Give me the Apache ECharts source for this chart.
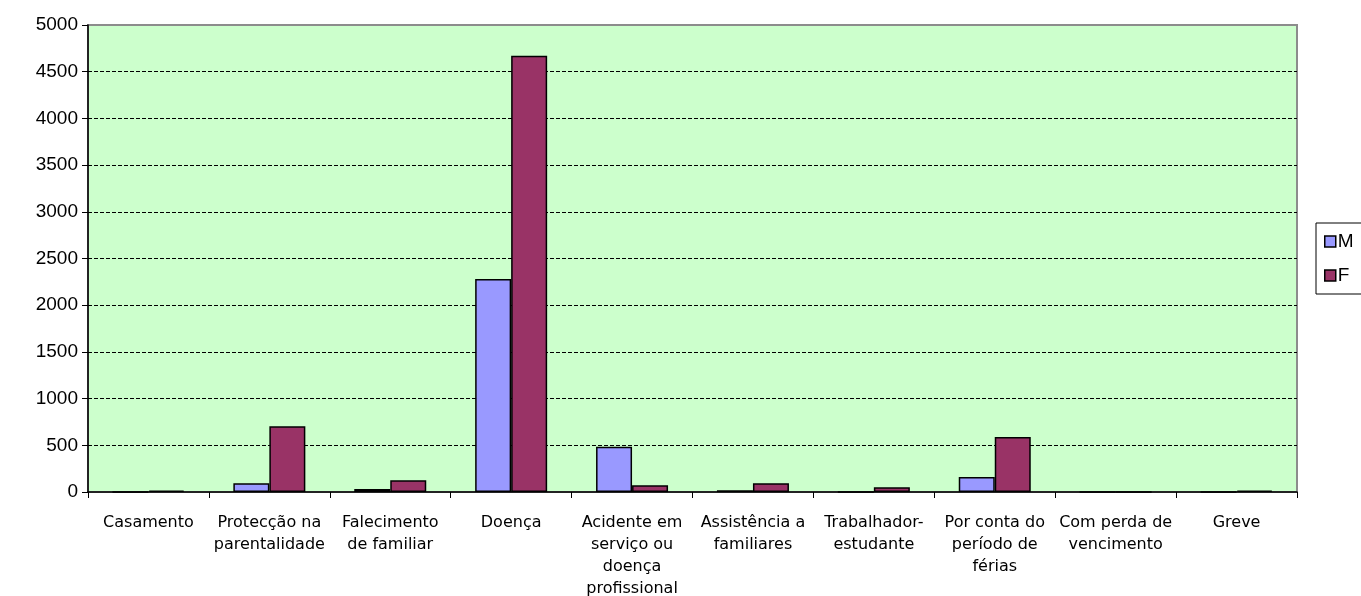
<!DOCTYPE html>
<html>
<head>
<meta charset="utf-8">
<script src="https://cdn.jsdelivr.net/npm/echarts@6/dist/echarts.min.js"></script>
<style>
    html, body { margin: 0; padding: 0; background: #fff; }
    #chart { width: 1361px; height: 596px; }
</style>
</head>
<body>
<div id="chart"></div>
<script>
// categorias de faltas
const categories = [
    'Casamento',
    'Protecção na\nparentalidade',
    'Falecimento\nde familiar',
    'Doença',
    'Acidente em\nserviço ou\ndoença\nprofissional',
    'Assistência a\nfamiliares',
    'Trabalhador-\nestudante',
    'Por conta do\nperíodo de\nférias',
    'Com perda de\nvencimento',
    'Greve'
]
const valuesM = [0, 93, 32, 2280, 485, 18, 0, 161, 0, 0]
const valuesF = [16, 703, 125, 4670, 72, 93, 50, 590, 0, 15]
const yTicks = [0, 500, 1000, 1500, 2000, 2500, 3000, 3500, 4000, 4500, 5000]

const chart = echarts.init(document.getElementById('chart'))

const barStyle = (color) => ({
    color: color,
    borderColor: '#000',
    borderWidth: 1.5
})

const option = {
    backgroundColor: '#fff',
    animation: false,
    textStyle: { fontFamily: 'Liberation Sans, Arial, sans-serif' },
    grid: {
        left: 88,
        right: 64,
        top: 25,
        bottom: 104,
        outerBoundsMode: 'none',
        containLabel: false,
        show: true,
        backgroundColor: '#ccffcc',
        borderColor: '#8c8c8c',
        borderWidth: 2
    },
    legend: {
        orient: 'vertical',
        left: 1316,
        top: 223,
        data: ['M', 'F'],
        icon: 'rect',
        itemWidth: 11,
        itemHeight: 11,
        itemGap: 15,
        padding: [9, 30, 9, 8],
        backgroundColor: '#fff',
        borderColor: '#000',
        borderWidth: 1,
        borderRadius: 0,
        itemStyle: { borderColor: '#000', borderWidth: 1.5 },
        textStyle: { color: '#000', fontSize: 19, padding: [0, 0, 0, -3] }
    },
    xAxis: {
        type: 'category',
        data: categories,
        axisLine: { lineStyle: { color: '#000', width: 1.5 } },
        axisTick: { show: true, length: 6, lineStyle: { color: '#000' } },
        axisLabel: {
            color: '#000',
            fontFamily: 'DejaVu Sans',
            fontSize: 16,
            lineHeight: 22,
            margin: 20,
            interval: 0
        },
        splitLine: { show: false }
    },
    yAxis: {
        type: 'value',
        min: 0,
        max: 5000,
        interval: 500,
        axisLine: { show: true, lineStyle: { color: '#000', width: 1.5 } },
        axisTick: { show: true, length: 6, lineStyle: { color: '#000' } },
        axisLabel: {
            color: '#000',
            fontSize: 19,
            margin: 10,
            formatter: (v) => yTicks.includes(v) ? String(v) : ''
        },
        splitLine: {
            show: true,
            showMinLine: false,
            showMaxLine: false,
            lineStyle: { color: '#000', type: [4, 2], width: 1 }
        }
    },
    series: [
        {
            name: 'M',
            type: 'bar',
            data: valuesM,
            barWidth: 36,
            barGap: '0%',
            itemStyle: barStyle('#9999ff')
        },
        {
            name: 'F',
            type: 'bar',
            data: valuesF,
            barWidth: 36,
            barGap: '0%',
            itemStyle: barStyle('#993366')
        }
    ]
}

chart.setOption(option)
</script>
</body>
</html>
